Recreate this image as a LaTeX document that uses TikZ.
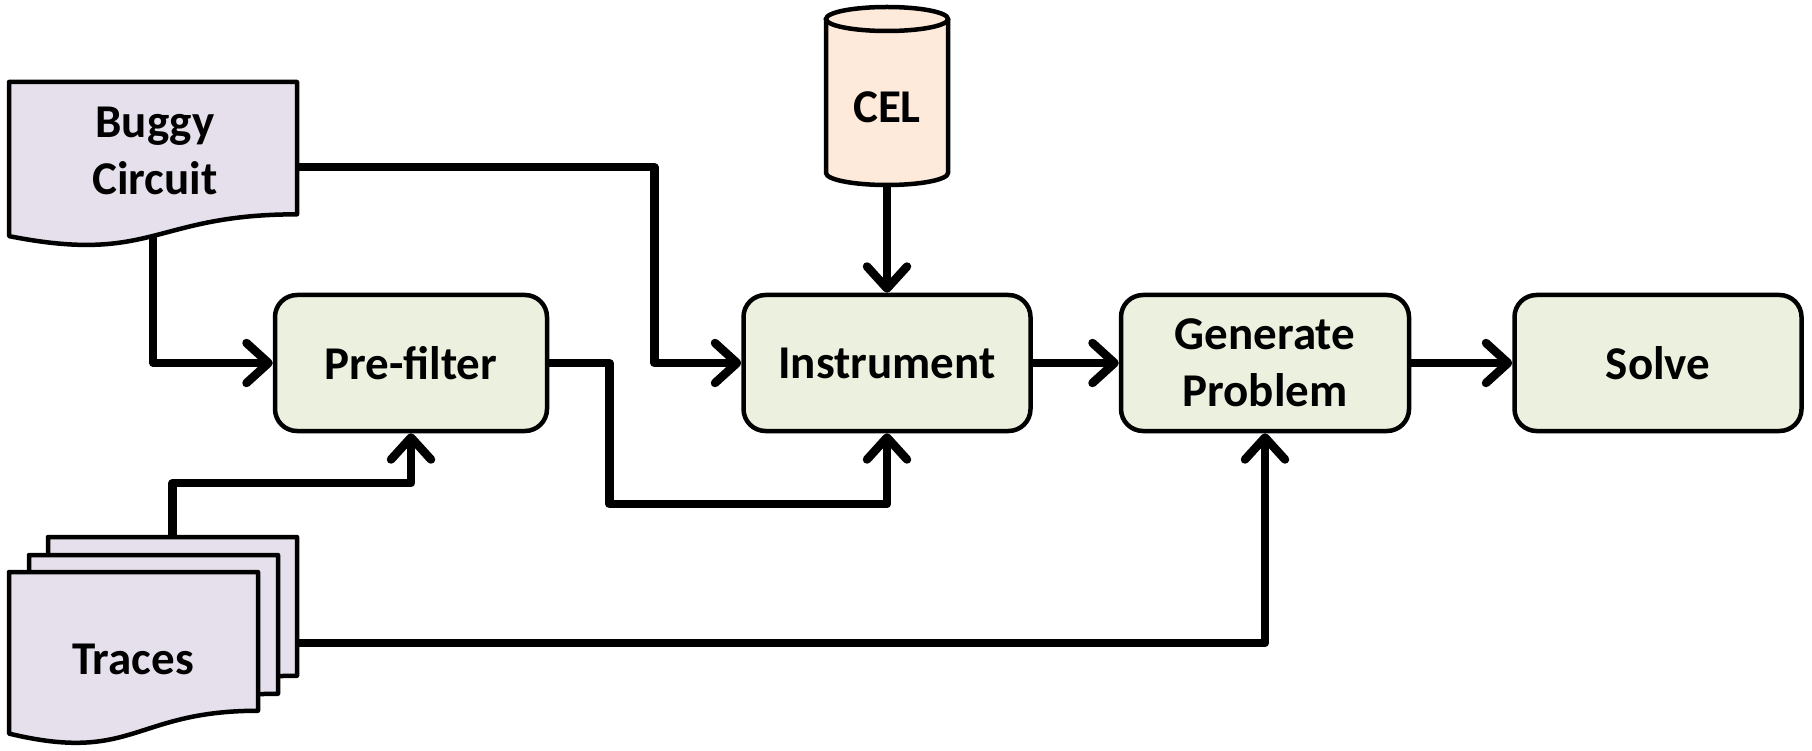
\documentclass[tikz,border=0pt]{standalone}
\usepackage{fontspec}
\setmainfont{Carlito}
\usetikzlibrary{arrows.meta}
\definecolor{docfill}{HTML}{E6E0EC}
\definecolor{boxfill}{HTML}{EBF1DE}
\definecolor{celfill}{HTML}{FDEADA}
\newcommand{\mydocshape}[4]{%
  \path[docline] (#1,#2) -- ({#1+#3},#2) -- ({#1+#3},{#2+0.802*#4})
    .. controls ({#1+0.5*#3},{#2+0.802*#4}) and ({#1+0.5*#3},{#2+1.1075*#4}) ..
    (#1,{#2+0.934*#4}) -- cycle;}
\begin{document}
\begin{tikzpicture}[x=1pt,y=-1pt,
  lbl/.style={font=\fontsize{47}{57}\selectfont\bfseries, align=center, inner sep=0pt},
  docline/.style={draw, line width=4.5pt, line join=round, fill=docfill},
  anchorbox/.style={anchor=north west, inner sep=0pt, minimum width=#1, minimum height=161.6pt},
  procbox/.style={draw, line width=4.5pt, rounded corners=22pt, fill=boxfill,
    minimum height=136pt, inner sep=0pt, font=\fontsize{47}{57}\selectfont\bfseries, align=center},
  conn/.style={line width=8.5pt, line join=round,
    -{Straight Barb[length=22pt,width=40pt,round]}}]
\useasboundingbox (0,0) rectangle (1812,751);

% Buggy Circuit document
\mydocshape{9}{82}{288}{165}
\node[anchor=north west, inner sep=0pt, minimum width=288pt, minimum height=154pt] (bc) at (9,82) {};
\node[lbl] (bctext) at (155,151) {Buggy\\Circuit};

% Traces (stacked documents)
\mydocshape{48}{537}{249}{173}
\mydocshape{29}{555}{249}{173}
\mydocshape{9}{572}{249}{173}
\node[anchorbox=249pt] (tb) at (48,537) {};
\node[anchorbox=249pt] (tm) at (29,555) {};
\node[anchorbox=249pt] (tf) at (9,572) {};
\node[lbl] (trtext) at (133,659) {Traces};

% CEL cylinder
\path[fill=celfill, draw, line width=4.5pt, line join=round]
  (826,19) -- (826,173) arc[start angle=180, end angle=360, x radius=61pt, y radius=12pt] -- (948,19);
\path[fill=celfill, draw, line width=4.5pt] (887,19) ellipse[x radius=61pt, y radius=12pt];
\node[inner sep=0pt, minimum width=122pt, minimum height=178pt] (cel) at (887,97) {};
\node[lbl] (celtext) at (887,107) {CEL};

% Process boxes
\node[procbox, minimum width=272pt] (pf) at (411,363) {Pre-filter};
\node[procbox, minimum width=287pt] (inst) at (887,363) {Instrument};
\node[procbox, minimum width=288pt] (gen) at (1265,363) {Generate\\Problem};
\node[procbox, minimum width=287pt] (solve) at (1658,363) {Solve};

% Connectors
\draw[conn] ([yshift=-8pt]bc.east) -- ++(357,0) |- (inst.west);
\draw[conn] (bc.south) |- (pf.west);
\draw[conn] (tb.north) -- ++(0,-54) -| (pf.south);
\draw[conn] (pf.east) -- ++(60,0) -- ++(0,141) -| (inst.south);
\draw[conn] (cel.south) -- (inst.north);
\draw[conn] (inst.east) -- (gen.west);
\draw[conn] (gen.east) -- (solve.west);
\draw[conn] ([yshift=-25pt]tb.east) -| (gen.south);
\end{tikzpicture}
\end{document}
